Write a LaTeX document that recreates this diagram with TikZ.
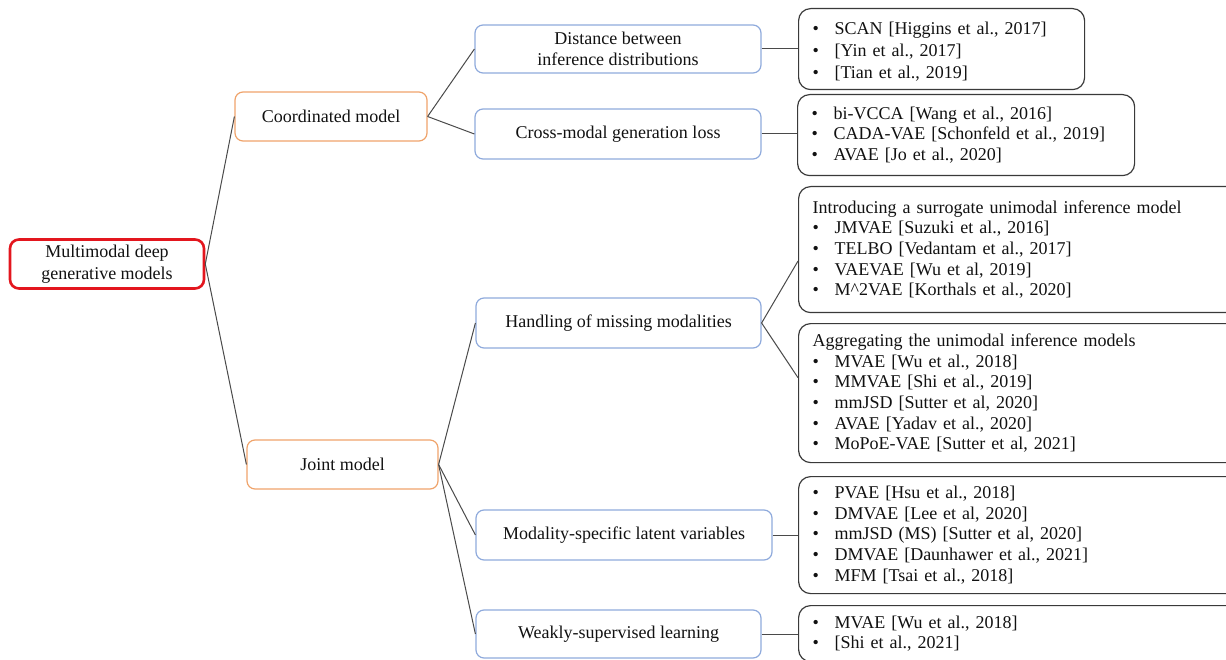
\documentclass[tikz,border=0pt]{standalone}
\usepackage{fontspec}
\setmainfont{Liberation Serif}
\usetikzlibrary{calc}
\definecolor{rootred}{HTML}{E3161E}
\definecolor{catorange}{HTML}{EFA36B}
\definecolor{subblue}{HTML}{8FAADC}
\definecolor{listgray}{HTML}{3A3A3A}
\definecolor{linkgray}{HTML}{4A4A4A}
\definecolor{ink}{HTML}{111111}
\newcommand{\itm}[1]{\makebox[22pt][l]{\textbullet}#1}
\tikzset{
  every node/.style={text=ink, font=\fontsize{18}{20.7}\selectfont},
  link/.style={draw=linkgray, line width=1pt},
  rootbox/.style={draw=rootred, line width=2.6pt, rounded corners=9pt, align=center,
    minimum width=194, minimum height=49, inner sep=0pt, font=\fontsize{18}{22}\selectfont},
  catbox/.style={draw=catorange, line width=1.2pt, rounded corners=8pt, align=center,
    minimum width=192, minimum height=49, inner sep=0pt},
  subbox/.style={draw=subblue, line width=1.2pt, rounded corners=8pt, align=center,
    minimum height=49, inner sep=0pt},
  listbox/.style={draw=listgray, line width=1.2pt, rounded corners=12pt, align=left,
    anchor=north west, inner xsep=14pt, inner ysep=0pt},
}
\begin{document}
\begin{tikzpicture}[x=1pt, y=-1pt]
\useasboundingbox (0,0) rectangle (1226,660);
\clip (0,0) rectangle (1226,660);

% root and the two model families
\node[rootbox] (root) at (107,264) {Multimodal deep\\generative models};
\node[catbox] (coord) at (331,116.5) {Coordinated model};
\node[catbox, minimum width=191] (joint) at (342.5,464.5) {Joint model};

% sub-categories
\node[subbox, minimum width=286, minimum height=48] (dist) at (618,49)
  {Distance between\\inference distributions};
\node[subbox, minimum width=286, minimum height=50] (cross) at (618,134)
  {Cross-modal generation loss};
\node[subbox, minimum width=285, minimum height=50] (miss) at (618.5,323)
  {Handling of missing modalities};
\node[subbox, minimum width=296, minimum height=50] (spec) at (624,535)
  {Modality-specific latent variables};
\node[subbox, minimum width=285, minimum height=48] (weak) at (618.5,634)
  {Weakly-supervised learning};

% lists of methods
\node[listbox, minimum width=286, minimum height=81, text width=258,
  font=\fontsize{18}{22}\selectfont] (l1) at (798,8)
  {\rule{0pt}{17pt}\itm{SCAN [Higgins et al., 2017]}\\ \itm{[Yin et al., 2017]}\\ \itm{[Tian et al., 2019]}};
\node[listbox, minimum width=337, minimum height=81, text width=309] (l2) at (797,94)
  {\itm{bi-VCCA [Wang et al., 2016]}\\ \itm{CADA-VAE [Schonfeld et al., 2019]}\\ \itm{AVAE [Jo et al., 2020]}};
\node[listbox, minimum width=450, minimum height=126, text width=422] (l3) at (798,186)
  {Introducing a surrogate unimodal inference model\\
   \itm{JMVAE [Suzuki et al., 2016]}\\ \itm{TELBO [Vedantam et al., 2017]}\\
   \itm{VAEVAE [Wu et al, 2019]}\\ \itm{M\^{}2VAE [Korthals et al., 2020]}};
\node[listbox, minimum width=450, minimum height=139, text width=422] (l4) at (798,323)
  {Aggregating the unimodal inference models\\
   \itm{MVAE [Wu et al., 2018]}\\ \itm{MMVAE [Shi et al., 2019]}\\
   \itm{mmJSD [Sutter et al, 2020]}\\ \itm{AVAE [Yadav et al., 2020]}\\
   \itm{MoPoE-VAE [Sutter et al, 2021]}};
\node[listbox, minimum width=450, minimum height=117, text width=422] (l5) at (798,476)
  {\itm{PVAE [Hsu et al., 2018]}\\ \itm{DMVAE [Lee et al, 2020]}\\
   \itm{mmJSD (MS) [Sutter et al, 2020]}\\ \itm{DMVAE [Daunhawer et al., 2021]}\\
   \itm{MFM [Tsai et al., 2018]}};
\node[listbox, minimum width=450, text width=422, inner ysep=10pt] (l6) at (798,605)
  {\itm{MVAE [Wu et al., 2018]}\\ \itm{[Shi et al., 2021]}};

% connectors
\draw[link] (root.east) -- (coord.west);
\draw[link] (root.east) -- (joint.west);
\draw[link] (coord.east) -- (dist.west);
\draw[link] (coord.east) -- (cross.west);
\draw[link] (joint.east) -- (miss.west);
\draw[link] (joint.east) -- (spec.west);
\draw[link] (joint.east) -- (weak.west);
\draw[link] (dist.east) -- (dist.east -| l1.west);
\draw[link] (cross.east) -- (cross.east -| l2.west);
\draw[link] (miss.east) -- ($(l3.north west)!0.59!(l3.south west)$);
\draw[link] (miss.east) -- ($(l4.north west)!0.39!(l4.south west)$);
\draw[link] (spec.east) -- (spec.east -| l5.west);
\draw[link] (weak.east) -- (weak.east -| l6.west);
\end{tikzpicture}
\end{document}
